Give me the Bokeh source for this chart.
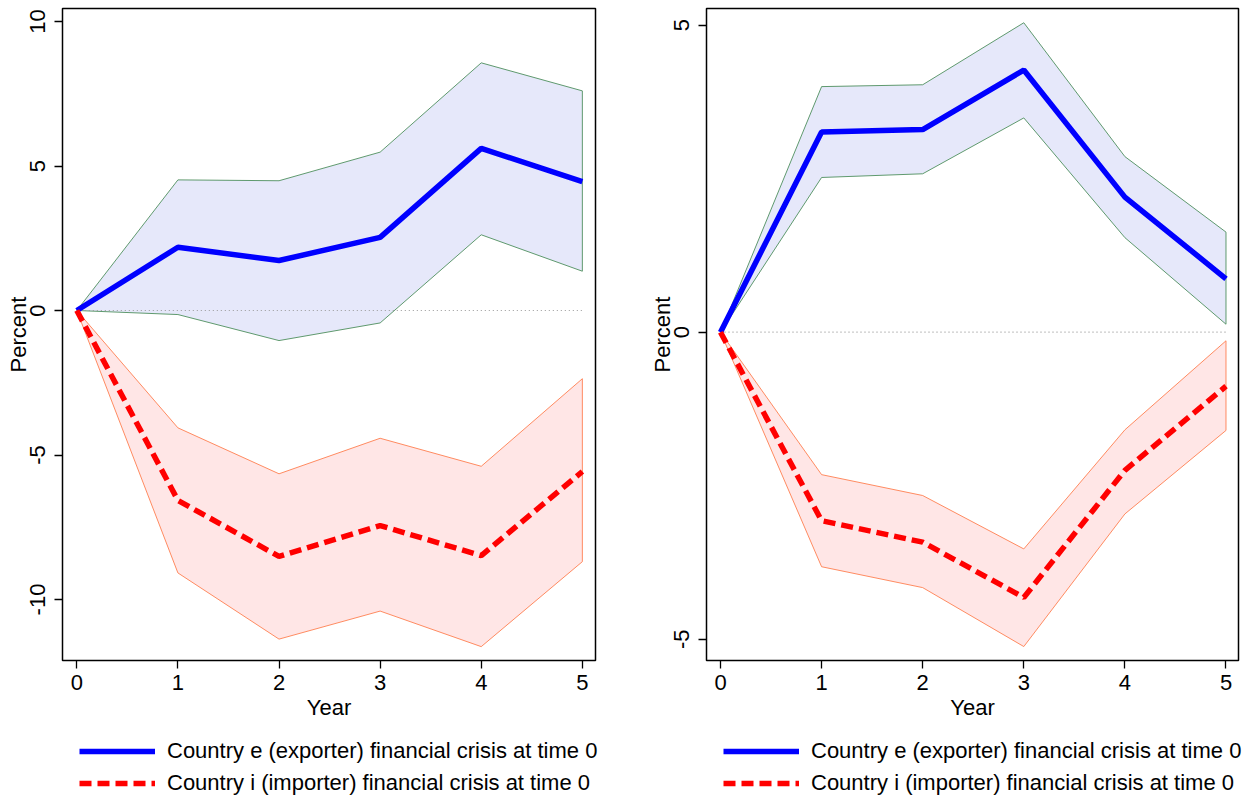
from bokeh.plotting import figure
from bokeh.models import Range1d, FixedTicker, Legend, LegendItem
from bokeh.layouts import row, column
from bokeh.embed import file_html
from bokeh.resources import INLINE

years = [0, 1, 2, 3, 4, 5]
x_ticks = [0, 1, 2, 3, 4, 5]

# Left panel
a_exp_mean = [0, 2.19, 1.73, 2.53, 5.61, 4.46]
a_exp_upper = [0, 4.52, 4.49, 5.48, 8.57, 7.60]
a_exp_lower = [0, -0.14, -1.04, -0.43, 2.62, 1.36]
a_imp_mean = [0, -6.57, -8.51, -7.44, -8.48, -5.57]
a_imp_upper = [0, -4.06, -5.65, -4.42, -5.39, -2.36]
a_imp_lower = [0, -9.08, -11.37, -10.40, -11.63, -8.69]
a_y_ticks = [-10, -5, 0, 5, 10]

# Right panel
b_exp_mean = [0, 3.26, 3.30, 4.27, 2.20, 0.87]
b_exp_upper = [0, 4.00, 4.03, 5.04, 2.86, 1.63]
b_exp_lower = [0, 2.52, 2.58, 3.49, 1.54, 0.13]
b_imp_mean = [0, -3.07, -3.42, -4.32, -2.25, -0.88]
b_imp_upper = [0, -2.32, -2.66, -3.53, -1.59, -0.14]
b_imp_lower = [0, -3.82, -4.16, -5.12, -2.96, -1.60]
b_y_ticks = [-5, 0, 5]

label_exp = "Country e (exporter) financial crisis at time 0"
label_imp = "Country i (importer) financial crisis at time 0"
x_title = "Year"
y_title = "Percent"

FONT = "Liberation Sans"
FS = "22px"
BLUE = "#0000FF"
RED = "#FF0000"
LW = 5.5
DASH = "12 6"


def make_panel(width, min_left, min_right, x_rng, y_rng, y_ticks,
               em, eu, el, im, iu, il):
    p = figure(width=width, height=725, x_range=Range1d(*x_rng), y_range=Range1d(*y_rng),
               output_backend="svg", toolbar_location=None,
               min_border_left=min_left, min_border_right=min_right,
               min_border_top=8, min_border_bottom=65)
    p.grid.visible = False
    p.background_fill_color = "white"
    p.border_fill_color = "white"
    p.outline_line_color = "black"
    p.outline_line_width = 1.5

    # confidence bands
    p.patch(years + years[::-1], eu + el[::-1], fill_color="#E6E8FA",
            line_color="#4E8F5E", line_width=0.9)
    p.patch(years + years[::-1], iu + il[::-1], fill_color="#FFE6E6",
            line_color="#FF7F50", line_width=0.9)
    # zero reference
    p.line([years[0], years[-1]], [0, 0], line_color="#999999", line_width=1.2,
           line_dash="1 3")
    p.line(years, em, line_color=BLUE, line_width=LW)
    p.line(years, im, line_color=RED, line_width=LW, line_dash=DASH)

    for ax in (p.xaxis[0], p.yaxis[0]):
        ax.major_tick_out = 8
        ax.major_tick_in = 0
        ax.minor_tick_line_color = None
        ax.axis_line_color = None
        ax.major_tick_line_color = "black"
        ax.major_tick_line_width = 1.3
        ax.major_label_text_font = FONT
        ax.major_label_text_font_size = FS
        ax.major_label_text_color = "black"
        ax.axis_label_text_font = FONT
        ax.axis_label_text_font_size = FS
        ax.axis_label_text_font_style = "normal"
        ax.axis_label_text_color = "black"
    p.xaxis.ticker = FixedTicker(ticks=x_ticks)
    p.xaxis.major_label_standoff = 6
    p.xaxis.axis_label = x_title
    p.xaxis.axis_label_standoff = 2
    p.yaxis.ticker = FixedTicker(ticks=y_ticks)
    p.yaxis.major_label_orientation = "vertical"
    p.yaxis.major_label_standoff = 9
    p.yaxis.major_label_overrides = {t: str(t) for t in y_ticks}
    p.yaxis.axis_label = y_title
    p.yaxis.axis_label_standoff = -3
    return p


def make_legend(width, x_off, em, im):
    # ranges chosen so the sample renderers fall outside the (legend-only) frame
    q = figure(width=width, height=72, x_range=Range1d(100, 101), y_range=Range1d(100, 101),
               output_backend="svg", toolbar_location=None,
               min_border_left=0, min_border_right=0, min_border_top=0, min_border_bottom=0)
    q.axis.visible = False
    q.grid.visible = False
    q.outline_line_color = None
    q.background_fill_color = "white"
    q.border_fill_color = "white"
    rb = q.line(years, em, line_color=BLUE, line_width=LW)
    rr = q.line(years, im, line_color=RED, line_width=LW, line_dash=DASH)
    legend = Legend(items=[LegendItem(label=label_exp, renderers=[rb]),
                           LegendItem(label=label_imp, renderers=[rr])],
                    location=(x_off, 1), orientation="vertical",
                    glyph_width=76, glyph_height=24, label_height=24,
                    label_standoff=12, spacing=6, padding=0, margin=0,
                    border_line_color=None, background_fill_alpha=0,
                    label_text_font=FONT, label_text_font_size=FS,
                    label_text_color="black")
    q.add_layout(legend, "center")
    return q


p1 = make_panel(644, 62, 49, (-0.1414, 5.130), (-12.11, 10.45), a_y_ticks,
                a_exp_mean, a_exp_upper, a_exp_lower, a_imp_mean, a_imp_upper, a_imp_lower)
p2 = make_panel(603, 62, 9, (-0.1385, 5.1237), (-5.347, 5.272), b_y_ticks,
                b_exp_mean, b_exp_upper, b_exp_lower, b_imp_mean, b_imp_upper, b_imp_lower)
q1 = make_legend(644, 79, a_exp_mean, a_imp_mean)
q2 = make_legend(603, 79, b_exp_mean, b_imp_mean)

layout = column(row(p1, p2), row(q1, q2))
open("out.html", "w").write(file_html(layout, INLINE))
